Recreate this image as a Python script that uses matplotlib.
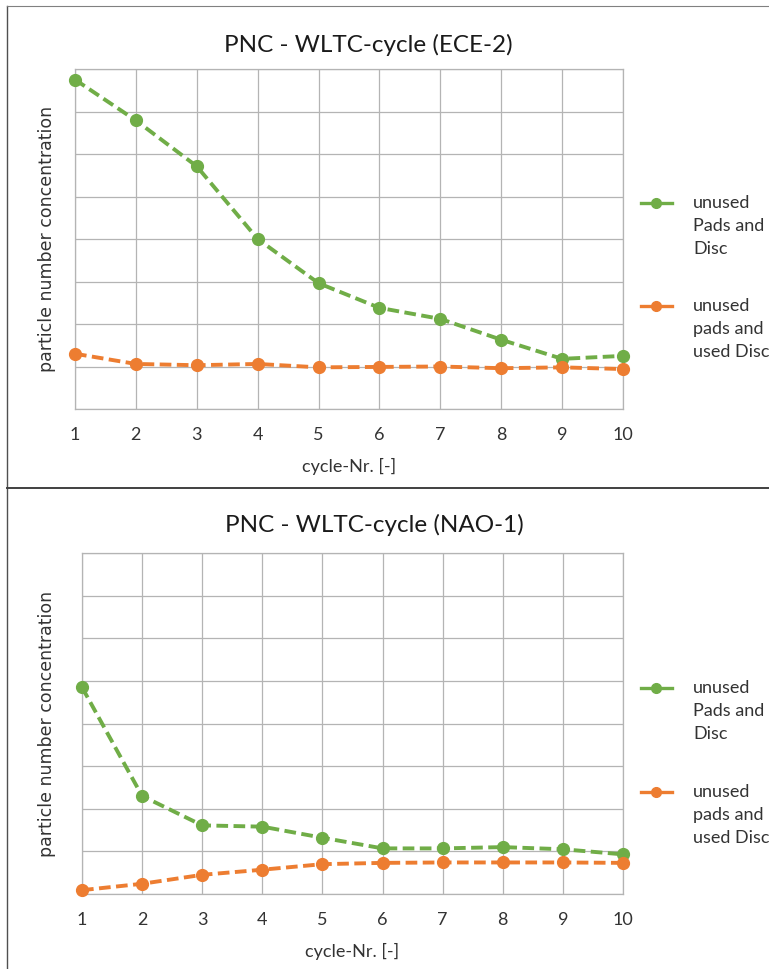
import numpy as np
import matplotlib
matplotlib.use('Agg')
import matplotlib.pyplot as plt
from matplotlib.lines import Line2D

# values in grid units (no y tick labels on the original)
cycles = [1, 2, 3, 4, 5, 6, 7, 8, 9, 10]
ece_new = [7.75, 6.79, 5.71, 4.0, 2.96, 2.38, 2.12, 1.63, 1.18, 1.25]
ece_used = [1.30, 1.06, 1.03, 1.06, 0.98, 0.99, 1.0, 0.96, 0.98, 0.94]
nao_new = [4.85, 2.30, 1.61, 1.58, 1.32, 1.07, 1.07, 1.10, 1.05, 0.93]
nao_used = [0.09, 0.24, 0.45, 0.57, 0.70, 0.73, 0.74, 0.74, 0.74, 0.73]

titles = ['PNC - WLTC-cycle (ECE-2)', 'PNC - WLTC-cycle (NAO-1)']
labels = ['unused\nPads and\nDisc', 'unused\npads and\nused Disc']
green = '#70AD47'
orange = '#ED7D31'
grid_col = '#b4b4b4'
txt_col = '#333333'

W, H = 769, 969
fig = plt.figure(figsize=(W / 100, H / 100), dpi=100)
fig.patch.set_facecolor('white')

def fx(px):
    return px / W

def fy(py):
    return 1 - py / H

# panel borders
fig.add_artist(Line2D([fx(7), fx(7)], [fy(6), fy(969)], color='#505050', lw=1.0))
fig.add_artist(Line2D([fx(7), fx(769)], [fy(6), fy(6)], color='#808080', lw=0.8))
fig.add_artist(Line2D([fx(7), fx(769)], [fy(488), fy(488)], color='#404040', lw=1.4))

panels = [
    dict(box=(75, 69, 623, 409), title=(368, 45), data=(ece_new, ece_used), leg=(203, 306)),
    dict(box=(82, 553, 623, 894), title=(374, 525), data=(nao_new, nao_used), leg=(688, 792)),
]

lw = 2.8
ms = 8.5
for i, p in enumerate(panels):
    x0, y0, x1, y1 = p['box']
    ax = fig.add_axes([fx(x0), fy(y1), fx(x1 - x0), (y1 - y0) / H])
    new, used = p['data']
    ls = (0, (3, 1.4))
    ax.plot(cycles, new, color=green, lw=lw, ls=ls, marker='o', ms=ms, clip_on=False, zorder=3)
    ax.plot(cycles, used, color=orange, lw=lw, ls=ls, marker='o', ms=ms, clip_on=False, zorder=3)
    ax.set_xlim(1, 10)
    ax.set_ylim(0, 8)
    ax.set_xticks(cycles)
    ax.set_yticks(np.arange(0, 9))
    ax.set_yticklabels([])
    ax.grid(True, color=grid_col, lw=0.9)
    ax.set_axisbelow(True)
    for s in ax.spines.values():
        s.set_color(grid_col)
        s.set_linewidth(0.9)
    ax.tick_params(length=0, pad=13, labelsize=13, labelcolor=txt_col)
    for t in ax.get_xticklabels():
        t.set_fontfamily('Lato')
    ax.set_xlabel('cycle-Nr. [-]', fontsize=13, family='Lato', color=txt_col, labelpad=11)
    ax.set_ylabel('particle number concentration', fontsize=12.5, family='DejaVu Sans', color=txt_col)
    ax.yaxis.set_label_coords((56 - x0) / (x1 - x0), 0.5)

    tx, ty = p['title']
    fig.text(fx(tx), fy(ty), titles[i], ha='center', va='center',
             fontsize=17.5, family='Lato', color='#1a1a1a')

    # legend drawn by hand so the marker sits on the first text line
    for ly, col, lab in zip(p['leg'], (green, orange), labels):
        fig.add_artist(Line2D([fx(641), fx(651)], [fy(ly), fy(ly)], color=col, lw=2.4))
        fig.add_artist(Line2D([fx(661), fx(672)], [fy(ly), fy(ly)], color=col, lw=2.4))
        fig.add_artist(Line2D([fx(656)], [fy(ly)], color=col, marker='o', ms=7, lw=0))
        fig.text(fx(693), fy(ly - 8), lab, ha='left', va='top', fontsize=13,
                 family='Lato', color=txt_col, linespacing=1.55)

fig.savefig('out.png', dpi=100)
